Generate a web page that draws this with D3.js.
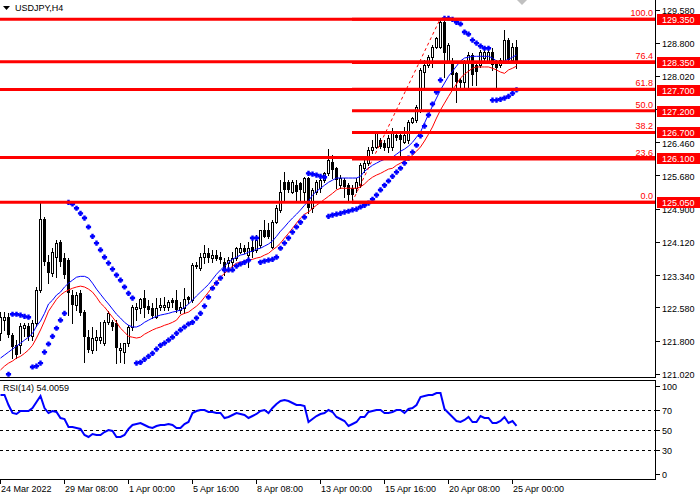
<!DOCTYPE html>
<html>
<head>
<meta charset="utf-8">
<script src="https://cdn.jsdelivr.net/npm/d3@7"></script>
<style>
body { margin: 0; background: #fff; }
text { font-family: "Liberation Sans", Arial, sans-serif; font-size: 9px; }
</style>
</head>
<body>
<div id="chart"></div>
<script>
"use strict"

/* USDJPY H4 bars, 24 Mar 16:00 .. 25 Apr 04:00 */
let barOpen = [121.97,122.28,122.35,121.93,121.69,121.69,122.09,122.14,121.90,122.21,
    122.99,124.65,123.64,123.38,123.76,124.11,123.74,123.69,122.87,122.63,
    122.91,122.47,121.88,121.58,121.81,121.81,121.74,122.23,122.23,122.21,
    121.58,121.53,121.74,122.12,122.54,122.56,122.80,122.61,122.56,122.35,
    122.59,122.59,122.59,122.75,122.75,122.52,122.56,122.82,122.75,123.55,
    123.50,123.76,123.85,123.74,123.81,123.76,123.64,123.62,123.64,123.74,
    123.88,123.97,123.81,124.00,123.93,124.04,124.40,124.40,124.00,124.58,
    124.87,125.52,125.52,125.29,125.45,125.50,125.29,125.62,124.91,125.29,
    125.38,125.57,125.73,125.99,125.85,125.45,125.57,125.45,125.38,125.38,
    125.45,125.85,125.97,126.28,126.35,126.51,126.44,126.35,126.35,126.63,
    126.63,126.46,126.51,126.93,126.98,127.22,128.11,128.27,128.46,128.70,
    128.70,129.28,128.34,128.34,128.08,127.92,127.87,128.34,128.51,128.27,
    128.27,128.44,128.34,128.58,128.34,128.27,128.34,128.86,128.39,128.70];
let barHigh = [122.47,122.47,122.44,121.97,121.81,122.21,122.21,122.21,122.28,123.06,
    125.05,124.70,123.81,123.97,124.16,124.16,123.85,123.74,122.99,122.94,
    122.99,122.52,122.05,122.12,122.05,122.23,122.28,122.49,122.28,122.28,
    121.74,121.74,122.16,122.63,122.68,122.80,122.99,122.75,122.68,122.80,
    122.80,122.82,122.75,122.80,122.99,122.70,123.03,122.84,123.62,123.64,
    123.85,124.04,123.97,123.93,123.93,123.88,123.74,123.76,123.88,124.00,
    124.09,124.04,124.11,124.21,124.28,124.40,124.63,124.56,124.63,124.98,
    125.57,125.76,125.57,125.57,125.57,125.52,125.64,125.64,125.38,125.57,
    125.62,125.76,126.30,126.16,125.88,125.69,125.62,125.50,125.45,125.62,
    125.97,126.09,126.35,126.51,126.67,126.56,126.51,126.63,126.79,126.67,
    126.67,126.82,126.98,127.05,127.33,128.20,128.39,128.51,128.74,128.93,
    129.33,129.35,128.79,128.44,128.11,127.97,128.39,128.58,128.56,128.34,
    128.63,128.63,128.63,128.67,128.39,128.44,129.10,128.91,128.79,128.86];
let barLow = [121.81,122.05,121.88,121.39,121.39,121.50,121.90,121.81,121.81,122.14,
    122.94,123.57,123.15,123.31,123.29,123.55,123.27,122.40,122.21,122.52,
    122.40,121.29,121.53,121.50,121.58,121.74,121.69,122.19,122.05,121.27,
    121.29,121.27,121.67,122.05,122.28,122.44,122.35,122.44,122.33,122.33,
    122.52,122.52,122.52,122.59,122.47,122.44,122.44,122.68,122.70,123.50,
    123.46,123.62,123.64,123.64,123.69,123.62,123.34,123.53,123.53,123.69,
    123.85,123.85,123.53,123.76,123.88,124.00,124.23,124.21,123.97,124.56,
    124.82,125.05,125.29,125.26,125.10,125.05,125.05,124.79,124.82,125.24,
    125.29,125.52,125.69,125.62,125.38,125.38,125.17,125.05,125.10,125.29,
    125.41,125.76,125.92,126.20,126.32,126.32,126.28,126.23,126.28,126.51,
    126.11,126.44,126.44,126.91,126.93,127.17,127.76,128.23,128.23,128.67,
    128.67,127.99,128.32,127.73,127.40,127.69,127.69,127.73,127.80,127.80,
    128.23,128.34,128.32,128.16,127.73,128.23,128.32,128.34,128.34,128.20];
let barClose = [122.35,122.35,121.93,121.65,121.46,122.14,122.16,121.88,122.21,122.99,
    124.65,123.64,123.38,123.88,124.09,123.64,123.34,122.91,122.63,122.87,
    122.44,121.88,121.58,121.86,121.88,121.88,122.23,122.44,122.12,121.62,
    121.62,121.74,122.12,122.59,122.59,122.77,122.56,122.52,122.37,122.56,
    122.63,122.63,122.70,122.68,122.52,122.59,122.77,122.75,123.57,123.57,
    123.76,123.85,123.74,123.81,123.71,123.69,123.46,123.69,123.74,123.97,
    123.97,123.88,123.97,123.88,124.16,124.40,124.23,124.23,124.58,124.91,
    125.29,125.34,125.34,125.52,125.29,125.34,125.62,124.91,125.34,125.52,
    125.57,125.73,126.04,125.81,125.57,125.62,125.41,125.22,125.22,125.52,
    125.92,125.97,126.28,126.35,126.67,126.35,126.32,126.56,126.67,126.56,
    126.51,126.63,126.93,127.03,127.29,128.16,128.27,128.46,128.70,128.91,
    129.28,128.56,128.74,128.04,127.87,127.85,128.34,128.51,128.04,128.11,
    128.58,128.58,128.58,128.27,128.20,128.39,128.86,128.39,128.70,128.32];

/* blue and red moving averages */
let maBlue = [121.39,121.46,121.53,121.60,121.67,121.74,121.81,121.88,121.97,122.14,
    122.26,122.44,122.66,122.75,122.87,122.94,123.06,123.15,123.22,123.29,
    123.31,123.31,123.27,123.15,123.01,122.89,122.77,122.66,122.54,122.42,
    122.33,122.23,122.16,122.12,122.12,122.16,122.23,122.28,122.33,122.37,
    122.40,122.42,122.44,122.47,122.49,122.52,122.58,122.66,122.75,122.85,
    122.94,123.03,123.12,123.24,123.36,123.46,123.55,123.64,123.71,123.76,
    123.81,123.83,123.88,123.90,123.95,123.97,124.02,124.07,124.14,124.25,
    124.37,124.47,124.58,124.68,124.77,124.87,124.98,125.08,125.22,125.31,
    125.38,125.45,125.52,125.57,125.62,125.62,125.62,125.62,125.62,125.62,
    125.66,125.78,125.85,125.92,125.97,126.02,126.06,126.09,126.11,126.18,
    126.25,126.30,126.37,126.46,126.58,126.70,126.91,127.12,127.31,127.50,
    127.69,127.85,128.01,128.13,128.25,128.37,128.44,128.46,128.48,128.48,
    128.48,128.48,128.48,128.44,128.37,128.34,128.37,128.41,128.46,128.51];
let maRed = [121.11,121.20,121.27,121.32,121.39,121.43,121.50,121.58,121.69,121.86,
    122.05,122.26,122.49,122.63,122.77,122.87,122.94,122.99,123.03,123.06,
    123.08,123.06,123.01,122.94,122.82,122.68,122.59,122.47,122.35,122.23,
    122.09,122.00,121.90,121.88,121.86,121.88,121.95,122.00,122.05,122.09,
    122.12,122.16,122.19,122.23,122.28,122.40,122.44,122.47,122.54,122.61,
    122.70,122.82,122.94,123.06,123.17,123.29,123.38,123.46,123.55,123.62,
    123.64,123.67,123.69,123.71,123.74,123.76,123.81,123.85,123.93,124.00,
    124.09,124.21,124.32,124.44,124.56,124.68,124.77,124.82,124.91,124.98,
    125.05,125.12,125.19,125.26,125.34,125.38,125.38,125.38,125.38,125.38,
    125.41,125.48,125.57,125.64,125.69,125.73,125.78,125.83,125.85,125.92,
    125.97,126.02,126.06,126.16,126.25,126.35,126.49,126.65,126.82,127.03,
    127.22,127.38,127.54,127.69,127.83,127.97,128.06,128.13,128.20,128.23,
    128.23,128.23,128.23,128.20,128.16,128.11,128.08,128.16,128.20,128.25];

/* parabolic SAR, null where the dot is off the panel */
let sar = [null,null,121.01,122.42,122.42,122.40,122.37,122.35,121.18,121.20,
    121.27,121.53,121.72,121.90,122.09,122.28,122.44,125.05,125.01,124.91,
    124.79,124.68,124.47,124.25,124.09,123.93,123.76,123.62,123.48,123.34,
    123.22,123.06,122.91,122.80,121.27,121.29,121.36,121.43,121.50,121.60,
    121.69,121.74,121.81,121.88,121.97,122.05,122.12,122.19,122.23,122.33,
    122.44,122.61,122.82,123.03,123.15,123.27,123.46,123.46,123.46,123.55,
    123.60,123.64,123.69,124.21,124.21,123.64,123.67,123.69,123.71,123.76,
    123.97,124.09,124.21,124.35,124.47,124.58,124.70,125.73,125.71,125.69,
    125.66,125.64,124.72,124.75,124.77,124.79,124.82,124.84,124.87,124.89,
    124.94,124.98,125.03,125.12,125.22,125.34,125.45,125.55,125.66,125.76,
    125.85,125.97,126.09,126.23,126.39,126.61,126.84,127.10,127.36,127.64,
    127.92,129.37,129.37,129.35,129.28,129.24,129.05,129.00,128.86,128.79,
    128.72,128.67,128.67,127.45,127.45,127.47,127.50,127.54,127.61,127.69];

/* RSI(14) */
let rsi = [85,85,75,67,66,69,69,69,72,78,
    84,72,67,69,68,62,61,53,53,52,
    51,45,43,46,45,45,48,50,49,43,
    43,45,51,55,56,57,55,53,52,54,
    55,55,56,55,52,52,56,58,67,69,
    70,70,68,68,67,67,62,63,65,67,
    66,65,62,64,66,69,70,67,72,76,
    79,80,79,77,75,75,74,58,61,64,
    66,67,70,68,63,61,59,54,56,58,
    63,63,68,69,70,70,67,67,68,70,
    70,67,71,72,75,83,84,85,85,87,
    87,71,67,63,59,58,60,63,58,58,
    64,62,62,57,57,59,63,57,59,54.0059];

let timeTickBars = [0, 16, 32, 48, 64, 80, 96, 112, 128];
let timeTickLabels = ["24 Mar 2022", "29 Mar 08:00", "1 Apr 00:00", "5 Apr 16:00", "8 Apr 08:00",
    "13 Apr 00:00", "15 Apr 16:00", "20 Apr 08:00", "25 Apr 00:00"];
let priceTicks = [129.58, 128.80, 128.02, 127.24, 126.46, 125.68, 124.90, 124.12, 123.34, 122.58, 121.80, 121.02];
let rsiTicks = [100, 70, 50, 30, 0];
let rsiLevels = [70, 50, 30];

/* drawn objects: horizontal lines and a fibonacci retracement */
let horizontalLines = [129.35, 128.35, 127.70, 126.10, 125.05];
let priceBoxes = [129.35, 128.35, 127.70, 127.20, 126.70, 126.10, 125.05];
let fibRatios = [1, 0.764, 0.618, 0.5, 0.382, 0.236, 0];
let fibNames = ["100.0", "76.4", "61.8", "50.0", "38.2", "23.6", "0.0"];
let fibLow = 125.05;
let fibHigh = 129.35;
let fibStartBar = 88;
let fibEndBar = 110;

/* layout */
let svgWidth = 700;
let svgHeight = 500;
let plotRight = 655;
let mainBottom = 377;
let rsiTop = 380;
let rsiBottom = 479;

let svg = d3.select("#chart")
    .append("svg")
    .attr("width", svgWidth)
    .attr("height", svgHeight)
    .style("display", "block");

let xScale = d3.scaleLinear()
    .domain([0, 128])
    .range([0, 512]);

let yScale = d3.scaleLinear()
    .domain([120.945, 129.8035])
    .range([mainBottom, 0]);

let rsiScale = d3.scaleLinear()
    .domain([0, 100])
    .range([rsiTop + 100, rsiTop]);

svg.append("clipPath").attr("id", "mainClip")
    .append("rect").attr("x", 0).attr("y", 0).attr("width", plotRight).attr("height", mainBottom);
svg.append("clipPath").attr("id", "rsiClip")
    .append("rect").attr("x", 0).attr("y", rsiTop + 1).attr("width", plotRight).attr("height", rsiBottom - rsiTop - 1);

let main = svg.append("g").attr("clip-path", "url(#mainClip)");
let bars = d3.range(barOpen.length);

// candles: white body for up bars, black for down bars
let candle = main.selectAll("g.bar")
    .data(bars)
    .join("g")
    .attr("class", "bar")
    .attr("shape-rendering", "crispEdges");

candle.append("line")
    .attr("x1", i => Math.round(xScale(i)) + 0.5)
    .attr("x2", i => Math.round(xScale(i)) + 0.5)
    .attr("y1", i => Math.round(yScale(barHigh[i])))
    .attr("y2", i => Math.round(yScale(barLow[i])) + 1)
    .attr("stroke", "#000")
    .attr("stroke-width", 1);

candle.append("rect")
    .attr("x", i => Math.round(xScale(i)) - (barClose[i] >= barOpen[i] ? 0.5 : 1))
    .attr("y", i => Math.round(yScale(Math.max(barOpen[i], barClose[i]))) + (barClose[i] >= barOpen[i] ? 0.5 : 0))
    .attr("width", i => barClose[i] >= barOpen[i] ? 2 : 3)
    .attr("height", i => Math.max(1, Math.round(Math.abs(yScale(barOpen[i]) - yScale(barClose[i])))))
    .attr("fill", i => barClose[i] >= barOpen[i] ? "#fff" : "#000")
    .attr("stroke", i => barClose[i] >= barOpen[i] ? "#000" : "none")
    .attr("stroke-width", 1);

// moving averages
let maLine = d3.line()
    .x((d, i) => xScale(i) + 0.5)
    .y(d => yScale(d));

main.append("path")
    .attr("d", maLine(maRed))
    .attr("fill", "none")
    .attr("stroke", "#ff0000")
    .attr("stroke-width", 1);

main.append("path")
    .attr("d", maLine(maBlue))
    .attr("fill", "none")
    .attr("stroke", "#0000ff")
    .attr("stroke-width", 1);

// parabolic SAR dots, a chunky little plus like the terminal draws
let sarMark = "M-1.2,-2.6h2.4v1.4h1.4v2.4h-1.4v1.4h-2.4v-1.4h-1.4v-2.4h1.4z";
main.selectAll("path.sar")
    .data(bars.filter(i => sar[i] !== null))
    .join("path")
    .attr("class", "sar")
    .attr("d", sarMark)
    .attr("transform", i => "translate(" + (xScale(i) + 0.5) + "," + yScale(sar[i]) + ")")
    .attr("fill", "#0000ff");

// horizontal lines over the whole chart
main.selectAll("line.hline")
    .data(horizontalLines)
    .join("line")
    .attr("class", "hline")
    .attr("x1", 0)
    .attr("x2", plotRight)
    .attr("y1", d => yScale(d))
    .attr("y2", d => yScale(d))
    .attr("stroke", "#ff0000")
    .attr("stroke-width", 3);

// fibonacci levels start at the swing low bar
let fibLevel = r => fibLow + r * (fibHigh - fibLow);

main.selectAll("line.fib")
    .data(fibRatios)
    .join("line")
    .attr("class", "fib")
    .attr("x1", xScale(fibStartBar))
    .attr("x2", plotRight)
    .attr("y1", r => yScale(fibLevel(r)))
    .attr("y2", r => yScale(fibLevel(r)))
    .attr("stroke", "#ff0000")
    .attr("stroke-width", 3);

main.append("line")
    .attr("x1", xScale(fibStartBar))
    .attr("y1", yScale(fibLow))
    .attr("x2", xScale(fibEndBar))
    .attr("y2", yScale(fibHigh))
    .attr("stroke", "#ff0000")
    .attr("stroke-width", 1)
    .attr("stroke-dasharray", "3,3");

svg.selectAll("text.fibName")
    .data(fibRatios)
    .join("text")
    .attr("class", "fibName")
    .attr("x", plotRight - 2)
    .attr("y", r => yScale(fibLevel(r)) - 3)
    .attr("text-anchor", "end")
    .attr("fill", "#ff0000")
    .text((r, i) => fibNames[i]);

// title
svg.append("path")
    .attr("d", "M3,6 L10,6 L6.5,10 Z")
    .attr("fill", "#000");
svg.append("text")
    .attr("x", 15)
    .attr("y", 11)
    .attr("fill", "#000")
    .text("USDJPY,H4");

// chart shift marker
svg.append("path")
    .attr("d", "M517,0 L527,0 L522,5 Z")
    .attr("fill", "#c0c0c0");

// frames
let frame = svg.append("g").attr("shape-rendering", "crispEdges").attr("stroke", "#000");
frame.append("line").attr("x1", plotRight + 0.5).attr("x2", plotRight + 0.5).attr("y1", 0).attr("y2", mainBottom);
frame.append("line").attr("x1", 0).attr("x2", plotRight + 1).attr("y1", mainBottom + 0.5).attr("y2", mainBottom + 0.5);
frame.append("line").attr("x1", 0).attr("x2", plotRight + 1).attr("y1", rsiTop + 0.5).attr("y2", rsiTop + 0.5);
frame.append("line").attr("x1", plotRight + 0.5).attr("x2", plotRight + 0.5).attr("y1", rsiTop).attr("y2", rsiBottom);
frame.append("line").attr("x1", 0).attr("x2", plotRight + 1).attr("y1", rsiBottom + 0.5).attr("y2", rsiBottom + 0.5);

// price axis
let priceAxis = svg.append("g");
priceAxis.selectAll("line")
    .data(priceTicks)
    .join("line")
    .attr("x1", plotRight + 1)
    .attr("x2", plotRight + 5)
    .attr("y1", d => Math.round(yScale(d)) + 0.5)
    .attr("y2", d => Math.round(yScale(d)) + 0.5)
    .attr("stroke", "#000")
    .attr("shape-rendering", "crispEdges");
priceAxis.selectAll("text")
    .data(priceTicks)
    .join("text")
    .attr("x", plotRight + 7)
    .attr("y", d => yScale(d) + 4.5)
    .attr("fill", "#000")
    .text(d => d.toFixed(3));

// price labels of the drawn lines
let boxes = svg.selectAll("g.pbox")
    .data(priceBoxes)
    .join("g")
    .attr("class", "pbox");
boxes.append("rect")
    .attr("x", plotRight + 2)
    .attr("y", d => Math.round(yScale(d)) - 5)
    .attr("width", svgWidth - plotRight - 2)
    .attr("height", 11)
    .attr("fill", "#ff0000");
boxes.append("text")
    .attr("x", plotRight + 7)
    .attr("y", d => Math.round(yScale(d)) + 4)
    .attr("fill", "#fff")
    .text(d => d.toFixed(3));

// RSI window
let rsiPanel = svg.append("g").attr("clip-path", "url(#rsiClip)");
rsiPanel.selectAll("line.level")
    .data(rsiLevels)
    .join("line")
    .attr("class", "level")
    .attr("x1", 0)
    .attr("x2", plotRight)
    .attr("y1", d => rsiScale(d) + 0.5)
    .attr("y2", d => rsiScale(d) + 0.5)
    .attr("stroke", "#000")
    .attr("stroke-dasharray", "3,3")
    .attr("shape-rendering", "crispEdges");

rsiPanel.append("path")
    .attr("d", d3.line().x((d, i) => xScale(i) + 0.5).y(d => rsiScale(d))(rsi))
    .attr("fill", "none")
    .attr("stroke", "#0000ff")
    .attr("stroke-width", 2);

svg.append("text")
    .attr("x", 3)
    .attr("y", rsiTop + 11)
    .attr("fill", "#000")
    .text("RSI(14) " + rsi[rsi.length - 1].toFixed(4));

// 100 and 0 labels are pushed inside the window
let rsiLabelY = v => Math.min(Math.max(rsiScale(v), rsiTop + 6), rsiBottom - 5);
svg.selectAll("line.rtick")
    .data(rsiTicks)
    .join("line")
    .attr("class", "rtick")
    .attr("x1", plotRight + 1)
    .attr("x2", plotRight + 5)
    .attr("y1", d => Math.round(rsiLabelY(d)) + 0.5)
    .attr("y2", d => Math.round(rsiLabelY(d)) + 0.5)
    .attr("stroke", "#000")
    .attr("shape-rendering", "crispEdges");
svg.selectAll("text.rlabel")
    .data(rsiTicks)
    .join("text")
    .attr("class", "rlabel")
    .attr("x", plotRight + 7)
    .attr("y", d => rsiLabelY(d) + 3.5)
    .attr("fill", "#000")
    .text(d => d);

// time axis
svg.selectAll("line.ttick")
    .data(timeTickBars)
    .join("line")
    .attr("class", "ttick")
    .attr("x1", d => Math.round(xScale(d)) + 0.5)
    .attr("x2", d => Math.round(xScale(d)) + 0.5)
    .attr("y1", rsiBottom + 1)
    .attr("y2", rsiBottom + 5)
    .attr("stroke", "#000")
    .attr("shape-rendering", "crispEdges");
svg.selectAll("text.tlabel")
    .data(timeTickBars)
    .join("text")
    .attr("class", "tlabel")
    .attr("x", d => Math.max(0, xScale(d) + 1))
    .attr("y", rsiBottom + 13)
    .attr("fill", "#000")
    .text((d, i) => timeTickLabels[i]);
</script>
</body>
</html>
